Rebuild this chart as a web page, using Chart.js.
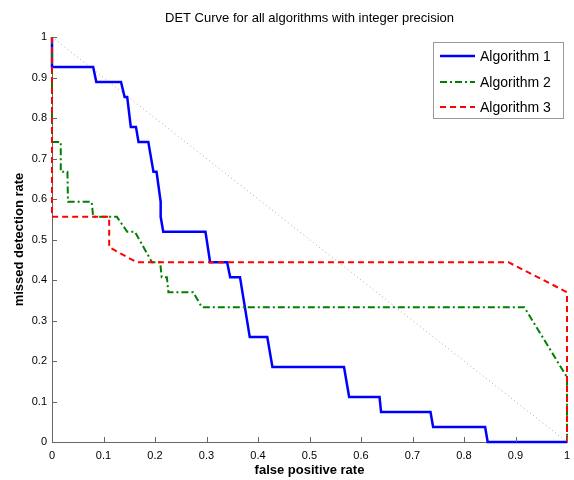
<!DOCTYPE html>
<html>
<head>
<meta charset="utf-8">
<script src="https://cdn.jsdelivr.net/npm/chart.js@4/dist/chart.umd.min.js"></script>
<style>
  html, body { margin: 0; padding: 0; background: #fff; }
  #wrap { width: 574px; height: 480px; }
</style>
</head>
<body>
<div id="wrap"><canvas id="det"></canvas></div>
<script>
// values (false positive rate, missed detection rate)
const algo1X = [0, 0, 0.080, 0.086, 0.134, 0.141, 0.146, 0.153, 0.163, 0.168, 0.187, 0.197, 0.203, 0.211, 0.211, 0.216, 0.298, 0.307, 0.340, 0.346, 0.365, 0.384, 0.418, 0.428, 0.567, 0.577, 0.636, 0.639, 0.735, 0.740, 0.841, 0.846, 1];
const algo1Y = [1, 0.926, 0.926, 0.889, 0.889, 0.852, 0.852, 0.778, 0.778, 0.741, 0.741, 0.667, 0.667, 0.593, 0.556, 0.519, 0.519, 0.444, 0.444, 0.407, 0.407, 0.259, 0.259, 0.185, 0.185, 0.111, 0.111, 0.074, 0.074, 0.037, 0.037, 0, 0];

const algo2X = [0, 0, 0.017, 0.017, 0.030, 0.031, 0.077, 0.080, 0.126, 0.146, 0.161, 0.194, 0.210, 0.213, 0.223, 0.226, 0.274, 0.291, 0.917, 1, 1];
const algo2Y = [1, 0.741, 0.741, 0.667, 0.667, 0.593, 0.593, 0.556, 0.556, 0.519, 0.519, 0.444, 0.444, 0.407, 0.407, 0.370, 0.370, 0.333, 0.333, 0.160, 0];

const algo3X = [0, 0, 0.111, 0.111, 0.164, 0.886, 1, 1];
const algo3Y = [1, 0.556, 0.556, 0.481, 0.444, 0.444, 0.370, 0];

const chanceX = [0, 1];
const chanceY = [1, 0];

const xTicks = [0, 0.1, 0.2, 0.3, 0.4, 0.5, 0.6, 0.7, 0.8, 0.9, 1];
const yTicks = [0, 0.1, 0.2, 0.3, 0.4, 0.5, 0.6, 0.7, 0.8, 0.9, 1];

const seriesNames = ["Algorithm 1", "Algorithm 2", "Algorithm 3"];

function pts(xs, ys) {
  return xs.map((x, i) => ({ x: x, y: ys[i] }));
}

const FONT = "'Liberation Sans', Arial, Helvetica, sans-serif";

// title, inward ticks and the boxed legend, MATLAB style
const matlabBits = {
  id: "matlabBits",
  afterDraw(chart) {
    const ctx = chart.ctx;
    const xs = chart.scales.x, ys = chart.scales.y;
    const a = chart.chartArea;
    ctx.save();

    ctx.fillStyle = "#000";
    ctx.font = "13px " + FONT;
    ctx.textAlign = "center";
    ctx.textBaseline = "middle";
    ctx.fillText("DET Curve for all algorithms with integer precision", (a.left + a.right) / 2, 18);

    ctx.strokeStyle = "#666";
    ctx.lineWidth = 1;
    ctx.beginPath();
    xTicks.forEach(t => {
      const px = Math.round(xs.getPixelForValue(t)) + 0.5;
      ctx.moveTo(px, a.bottom);
      ctx.lineTo(px, a.bottom - 5);
    });
    yTicks.forEach(t => {
      const py = Math.round(ys.getPixelForValue(t)) + 0.5;
      ctx.moveTo(a.left, py);
      ctx.lineTo(a.left + 5, py);
    });
    ctx.stroke();

    // legend
    const bx = 433.5, by = 42.5, bw = 130, bh = 76;
    ctx.fillStyle = "#fff";
    ctx.fillRect(bx, by, bw, bh);
    ctx.strokeStyle = "#999";
    ctx.strokeRect(bx, by, bw, bh);
    const rows = [56, 82, 107];
    chart.data.datasets.slice(0, 3).forEach((ds, i) => {
      ctx.beginPath();
      ctx.setLineDash(ds.borderDash || []);
      ctx.strokeStyle = ds.borderColor;
      ctx.lineWidth = ds.borderWidth;
      ctx.moveTo(440, rows[i]);
      ctx.lineTo(475, rows[i]);
      ctx.stroke();
      ctx.setLineDash([]);
      ctx.fillStyle = "#000";
      ctx.font = "14px " + FONT;
      ctx.textAlign = "left";
      ctx.textBaseline = "middle";
      ctx.fillText(ds.label, 480, rows[i] + 1);
    });
    ctx.restore();
  }
};

new Chart(document.getElementById("det"), {
  type: "line",
  data: {
    datasets: [
      {
        label: seriesNames[0],
        data: pts(algo1X, algo1Y),
        borderColor: "#0000ff",
        borderWidth: 2.5,
        order: 3
      },
      {
        label: seriesNames[1],
        data: pts(algo2X, algo2Y),
        borderColor: "#008000",
        borderWidth: 2,
        borderDash: [7, 3, 2, 3],
        order: 2
      },
      {
        label: seriesNames[2],
        data: pts(algo3X, algo3Y),
        borderColor: "#ff0000",
        borderWidth: 2,
        borderDash: [6, 4],
        order: 1
      },
      {
        label: "chance",
        data: pts(chanceX, chanceY),
        borderColor: "#aaa",
        borderWidth: 1,
        borderDash: [1, 3],
        order: 4
      }
    ]
  },
  options: {
    responsive: true,
    maintainAspectRatio: false,
    animation: false,
    layout: { padding: { top: 37, right: 7, left: 0, bottom: 0 } },
    elements: {
      point: { radius: 0, hoverRadius: 0 },
      line: { tension: 0, fill: false }
    },
    datasets: { line: { clip: false } },
    plugins: {
      legend: { display: false },
      tooltip: { enabled: false },
      title: { display: false }
    },
    scales: {
      x: {
        type: "linear",
        min: 0,
        max: 1,
        afterFit: s => { s.height = 38; s.paddingRight = 3; s.paddingLeft = 3; },
        afterBuildTicks: s => { s.ticks = xTicks.map(v => ({ value: v })); },
        ticks: {
          padding: 7,
          color: "#000",
          font: { family: FONT, size: 11 },
          maxRotation: 0,
          callback: v => String(+v.toFixed(1))
        },
        grid: { display: false, drawTicks: false },
        border: { color: "#666", width: 1 },
        title: {
          display: true,
          text: "false positive rate",
          color: "#000",
          font: { family: FONT, size: 13, weight: "bold" },
          padding: { top: 0, bottom: 2 }
        }
      },
      y: {
        type: "linear",
        min: 0,
        max: 1,
        afterFit: s => { s.width = 52; },
        afterBuildTicks: s => { s.ticks = yTicks.map(v => ({ value: v })); },
        ticks: {
          padding: 5,
          color: "#000",
          font: { family: FONT, size: 11 },
          callback: v => String(+v.toFixed(1))
        },
        grid: { display: false, drawTicks: false },
        border: { color: "#666", width: 1 },
        title: {
          display: true,
          text: "missed detection rate",
          color: "#000",
          font: { family: FONT, size: 13, weight: "bold" },
          padding: { top: 12, bottom: 0 }
        }
      }
    }
  },
  plugins: [matlabBits]
});
</script>
</body>
</html>
